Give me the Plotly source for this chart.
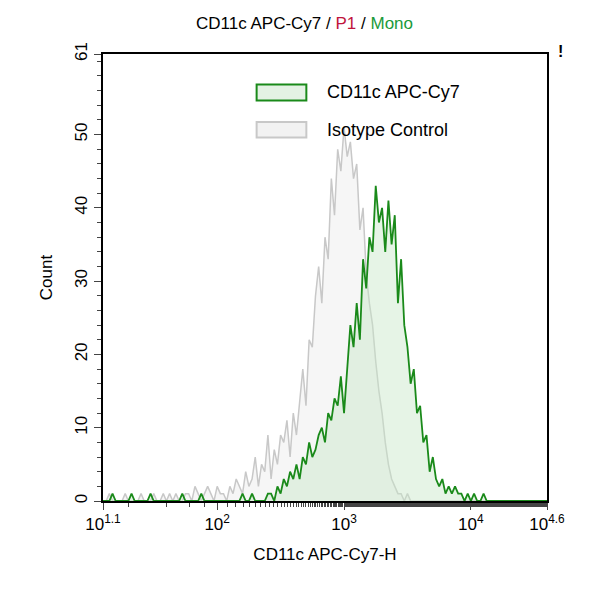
import numpy as np
import plotly.graph_objects as go

log_start, log_step = 1.1, 0.025
gray_counts = ([0,0,1,0,0,0,0,1,0,0,0,0,1,0,0,0,1,0,0,1,
                0,1,0,1,0,0,1,1,0,2,1,0,1,2,1,0,2,1,1,0,
                2,1,3,2,1,4,2,3,6,2,5,4,9,3,7,5,9,8,11,6,
                12,9,14,18,13,22,21,28,32,27,36,33,44,39,48,45,51,47,49,44,
                46,37,40,31,27,24,19,15,12,8,5,3,2,1,1,0,1,0,0,0] + [0]*41)
green_counts = ([0,0,0,1,0,0,0,0,0,1,0,0,0,0,0,1,0,0,0,0,
                 0,0,0,0,0,1,0,0,0,0,0,1,0,0,0,0,0,0,0,0,
                 0,0,0,0,1,0,0,1,0,0,0,0,1,1,0,2,1,3,2,4,
                 3,5,3,6,5,8,6,7,9,10,8,12,11,14,13,17,12,18,24,21,
                 27,22,33,29,36,34,43,38,40,34,41,35,39,27,33,24,21,16,18,12,
                 13,8,9,4,6,3,2,3,1,2,1,2,1,1,0,1,0,1,0,0,1] + [0]*20)
x = 10 ** (log_start + log_step * np.arange(len(gray_counts)))
series_names = ["CD11c APC-Cy7", "Isotype Control"]

tick_vals = [10**1.1, 100, 1000, 10000, 10**4.6]
tick_text = ["10<sup>1.1</sup>", "10<sup>2</sup>", "10<sup>3</sup>", "10<sup>4</sup>", "10<sup>4.6</sup>"]
y_ticks = [0, 10, 20, 30, 40, 50, 61]

GREEN = "#1a8a1a"
GRAY = "#c8c8c8"
fig = go.Figure()
fig.add_trace(go.Scatter(x=x, y=gray_counts, mode="lines", name=series_names[1], showlegend=False,
                         line=dict(color=GRAY, width=1.5), fill="tozeroy",
                         fillcolor="rgba(225,225,225,0.3)"))
fig.add_trace(go.Scatter(x=x, y=green_counts, mode="lines", name=series_names[0], showlegend=False,
                         line=dict(color=GREEN, width=1.8), fill="tozeroy",
                         fillcolor="rgba(200,230,200,0.45)"))

# legend swatches and labels
for (y0, y1, yt), col, fc, name in [((0.896, 0.932, 0.914), GREEN, "rgba(228,242,228,1)", series_names[0]),
                                    ((0.813, 0.848, 0.830), GRAY, "rgba(242,242,242,1)", series_names[1])]:
    fig.add_shape(type="rect", xref="paper", yref="paper", x0=0.346, x1=0.458, y0=y0, y1=y1,
                  line=dict(color=col, width=2), fillcolor=fc)
    fig.add_annotation(text=name, xref="paper", yref="paper", x=0.5, y=yt, xanchor="left",
                       yanchor="middle", showarrow=False, font=dict(size=18))

fig.update_layout(
    width=593, height=600, paper_bgcolor="white", plot_bgcolor="white",
    margin=dict(l=95, r=54, t=46, b=107), showlegend=False,
    font=dict(family="Liberation Sans, Arial", size=17, color="black"),
    title=dict(text="CD11c APC-Cy7 / <span style='color:#c0143c'>P1</span> / <span style='color:#1a9a3a'>Mono</span>",
               x=0.5, xanchor="center", y=0.985, yanchor="top", font=dict(size=17)),
    xaxis=dict(type="log", range=[1.1, 4.6], tickvals=tick_vals, ticktext=tick_text,
               showline=True, linecolor="black", linewidth=2, mirror=True, ticks="outside",
               ticklen=7, showgrid=False, zeroline=False,
               minor=dict(ticks="outside", ticklen=4, showgrid=False),
               title=dict(text="CD11c APC-Cy7-H", font=dict(size=17))),
    yaxis=dict(range=[0, 61], tickvals=y_ticks, showline=True, linecolor="black", linewidth=2,
               mirror=True, ticks="outside", ticklen=7, showgrid=False, zeroline=False,
               tickangle=-90, minor=dict(ticks="outside", ticklen=4, dtick=2),
               title=dict(text="Count", font=dict(size=17))),
)
fig.add_annotation(text="<b>!</b>", x=1.04, y=1.03, xref="paper", yref="paper", showarrow=False, font=dict(size=16))
fig.write_html("out.html")
